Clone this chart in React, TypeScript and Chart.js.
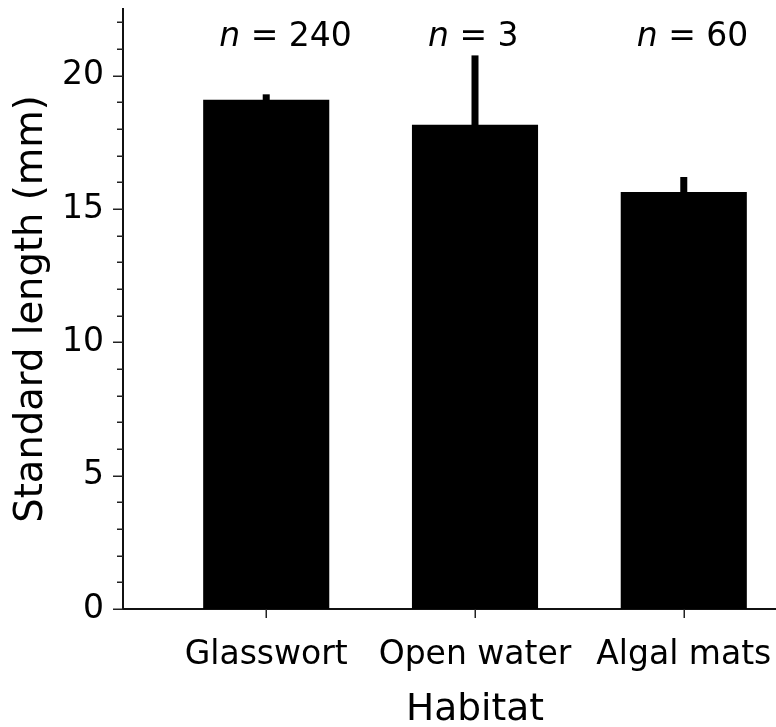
import React, { useEffect, useRef } from 'react';
import { Chart, registerables } from 'chart.js';

Chart.register(...registerables);

// ---- data ----
const categories = ['Glasswort', 'Open water', 'Algal mats'];
const meanLength = [19.1, 18.16, 15.64];
const upperError = [19.3, 20.76, 16.2];
const sampleSizes = [240, 3, 60];
const yMax = 22.5;

const FONT = "'DejaVu Sans', Verdana, sans-serif";

const decorPlugin = {
  id: 'decor',
  afterDraw(chart: any, _args: any, opts: any) {
    const ctx = chart.ctx as CanvasRenderingContext2D;
    const xs = chart.scales.x;
    const ys = chart.scales.y;
    const area = chart.chartArea;
    ctx.save();

    // error bars (upper)
    ctx.fillStyle = '#000';
    categories.forEach((_c, i) => {
      const px = xs.getPixelForValue(i + 1);
      const top = ys.getPixelForValue(upperError[i]);
      const base = ys.getPixelForValue(meanLength[i]);
      ctx.fillRect(px - 3.5, top, 7, base - top + 2);
    });

    // y ticks (major every 5, minor every 1)
    ctx.strokeStyle = '#222';
    ctx.lineWidth = 1.5;
    const ax = area.left;
    for (let v = 0; v <= Math.floor(ys.max); v++) {
      const py = Math.round(ys.getPixelForValue(v)) + 0.25;
      const len = v % 5 === 0 ? 9 : 5;
      ctx.beginPath();
      ctx.moveTo(ax - len - 1, py);
      ctx.lineTo(ax, py);
      ctx.stroke();
    }
    // x ticks
    const by = area.bottom;
    categories.forEach((_c, i) => {
      const px = Math.round(xs.getPixelForValue(i + 1)) + 0.25;
      ctx.beginPath();
      ctx.moveTo(px, by);
      ctx.lineTo(px, by + 9);
      ctx.stroke();
    });

    // n labels
    ctx.fillStyle = '#000';
    ctx.textBaseline = 'alphabetic';
    ctx.textAlign = 'left';
    const ly = ys.getPixelForValue(opts.labelValue);
    categories.forEach((_c, i) => {
      const px = xs.getPixelForValue(i + 1) + opts.labelShift;
      ctx.font = `italic 33px ${FONT}`;
      ctx.fillText('n', px, ly);
      const w = ctx.measureText('n').width;
      ctx.font = `33px ${FONT}`;
      ctx.fillText(` = ${sampleSizes[i]}`, px + w, ly);
    });
    ctx.restore();
  },
};

export default function App() {
  const ref = useRef<HTMLCanvasElement | null>(null);

  useEffect(() => {
    if (!ref.current) return;
    const chart = new Chart(ref.current, {
      type: 'bar',
      data: {
        datasets: [
          {
            data: categories.map((_c, i) => ({ x: i + 1, y: meanLength[i] })),
            backgroundColor: '#000',
            borderWidth: 0,
            barPercentage: 0.604,
            categoryPercentage: 1,
          },
        ],
      },
      plugins: [decorPlugin],
      options: {
        animation: false,
        responsive: false,
        maintainAspectRatio: false,
        layout: { padding: { top: 9, right: 13, left: 0, bottom: 0 } },
        plugins: {
          legend: { display: false },
          tooltip: { enabled: false },
          decor: { labelValue: 21.12, labelShift: -47 },
        } as any,
        scales: {
          x: {
            type: 'linear',
            min: 0.314,
            max: 3.686,
            offset: false,
            grid: { display: false, drawTicks: false, offset: false },
            border: { display: true, color: '#111', width: 2 },
            afterBuildTicks: (s: any) => {
              s.ticks = categories.map((_c, i) => ({ value: i + 1 }));
            },
            afterFit: (s: any) => {
              s.height = 131;
              s.paddingLeft = 0;
              s.paddingRight = 0;
              s.paddingTop = 0;
              s.paddingBottom = 0;
            },
            ticks: {
              autoSkip: false,
              maxRotation: 0,
              minRotation: 0,
              padding: 27,
              color: '#000',
              font: { family: FONT, size: 33 },
              callback: (v: any) => categories[Math.round(Number(v)) - 1] ?? '',
            },
            title: {
              display: true,
              text: 'Habitat',
              color: '#000',
              font: { family: FONT, size: 37.5 },
              padding: { top: 0, bottom: 7 },
            },
          },
          y: {
            type: 'linear',
            min: 0,
            max: yMax,
            grid: { display: false, drawTicks: false },
            border: { display: true, color: '#111', width: 2 },
            afterFit: (s: any) => {
              s.width = 123;
              s.paddingLeft = 0;
              s.paddingRight = 0;
              s.paddingTop = 0;
              s.paddingBottom = 0;
            },
            ticks: {
              stepSize: 1,
              autoSkip: false,
              padding: 19,
              color: '#000',
              font: { family: FONT, size: 33 },
              callback: (v: any) => (Number(v) % 5 === 0 ? String(v) : ''),
            },
            title: {
              display: true,
              text: 'Standard length (mm)',
              color: '#000',
              font: { family: FONT, size: 38.5 },
              padding: { top: 8.5, bottom: 0 },
            },
          },
        } as any,
      },
    });
    return () => chart.destroy();
  }, []);

  return (
    <div
      style={{
        position: 'absolute',
        left: 0,
        top: 0,
        width: 776,
        height: 727,
        overflow: 'hidden',
        background: '#fff',
      }}
    >
      <canvas ref={ref} width={840} height={740} style={{ display: 'block' }} />
    </div>
  );
}
